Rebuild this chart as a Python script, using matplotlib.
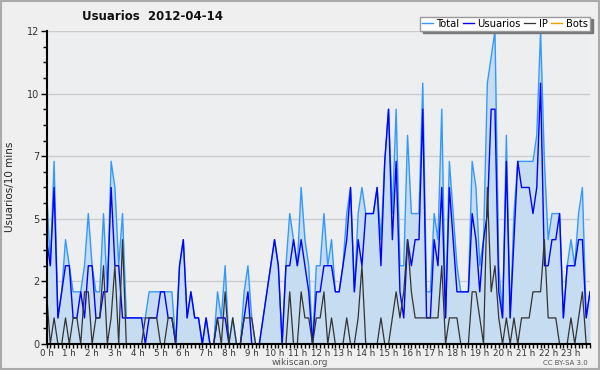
import numpy as np
import matplotlib
matplotlib.use("Agg")
import matplotlib.pyplot as plt
from matplotlib.ticker import FixedLocator, MultipleLocator

# --- datos: usuarios por intervalo de 10 minutos (144 intervalos, 2012-04-14) ---
usuarios = [4, 3, 6, 1, 2, 3, 3, 1, 1, 2, 1, 3, 3, 1, 1, 2, 2, 6, 3, 3,
            1, 1, 1, 1, 1, 1, 0, 1, 1, 1, 2, 2, 1, 1, 0, 3, 4, 1, 2, 1,
            1, 0, 1, 0, 0, 1, 1, 1, 0, 0, 0, 0, 1, 2, 0, 0, 0, 1, 2, 3,
            4, 3, 0, 3, 3, 4, 3, 4, 3, 2, 0, 2, 2, 3, 3, 3, 2, 2, 3, 4,
            6, 2, 4, 3, 5, 5, 5, 6, 3, 7, 9, 4, 7, 2, 1, 4, 3, 4, 4, 9,
            1, 1, 4, 3, 6, 1, 6, 4, 2, 2, 2, 2, 5, 4, 2, 4, 5, 9, 9, 2,
            1, 7, 1, 4, 7, 6, 6, 6, 5, 6, 10, 3, 3, 4, 4, 5, 1, 3, 3, 3,
            4, 4, 1, 2]
ip = [2, 0, 1, 0, 0, 1, 0, 1, 1, 0, 2, 2, 0, 1, 1, 3, 0, 1, 3, 0,
      4, 0, 0, 0, 0, 0, 1, 1, 1, 1, 0, 0, 1, 1, 0, 0, 0, 0, 0, 0,
      0, 0, 0, 0, 0, 1, 0, 2, 0, 1, 0, 0, 1, 1, 1, 0, 0, 0, 0, 0,
      0, 0, 0, 0, 2, 0, 0, 2, 1, 1, 0, 1, 1, 2, 0, 1, 0, 0, 0, 1,
      0, 0, 1, 3, 0, 0, 0, 0, 1, 0, 0, 1, 2, 1, 2, 4, 2, 1, 1, 1,
      1, 1, 1, 1, 3, 0, 1, 1, 1, 0, 0, 0, 2, 2, 1, 0, 6, 2, 3, 1,
      0, 1, 0, 1, 0, 1, 1, 1, 2, 2, 2, 4, 1, 1, 1, 0, 0, 0, 1, 0,
      1, 2, 0, 0]
total = [6, 3, 7, 1, 2, 4, 3, 2, 2, 2, 3, 5, 3, 2, 2, 5, 2, 7, 6, 3,
         5, 1, 1, 1, 1, 1, 1, 2, 2, 2, 2, 2, 2, 2, 0, 3, 4, 1, 2, 1,
         1, 0, 1, 0, 0, 2, 1, 3, 0, 1, 0, 0, 2, 3, 1, 0, 0, 1, 2, 3,
         4, 3, 0, 3, 5, 4, 3, 6, 4, 3, 0, 3, 3, 5, 3, 4, 2, 2, 3, 5,
         6, 2, 5, 6, 5, 5, 5, 6, 4, 7, 9, 5, 9, 3, 3, 8, 5, 5, 5, 10,
         2, 2, 5, 4, 9, 1, 7, 5, 3, 2, 2, 2, 7, 6, 3, 4, 10, 11, 12, 3,
         1, 8, 1, 5, 7, 7, 7, 7, 7, 8, 12, 7, 4, 5, 5, 5, 1, 3, 4, 3,
         5, 6, 1, 2]
bots = [0] * 144

horas = [f"{h} h" for h in range(24)]

x = np.arange(len(total))

fig = plt.figure(figsize=(6, 3.7), dpi=100, facecolor="#efefef")
fig.patches.append(plt.Rectangle((0.002, 0.003), 0.996, 0.994, transform=fig.transFigure,
                                 fill=False, edgecolor="#aaaaaa", linewidth=1.5))

ax = fig.add_axes([0.0775, 0.0703, 0.9058, 0.846])
ax.set_facecolor("#eceef0")

ax.fill_between(x, 0, total, color="#c6dcf0", linewidth=0, zorder=1)
l_total, = ax.plot(x, total, color="#3399ff", linewidth=1.0, zorder=3, label="Total")
l_usu, = ax.plot(x, usuarios, color="#0000ff", linewidth=1.0, zorder=4, label="Usuarios")
l_ip, = ax.plot(x, ip, color="#333333", linewidth=0.9, zorder=5, label="IP")
l_bots, = ax.plot(x, bots, color="#ff9900", linewidth=1.0, zorder=2, label="Bots")

ax.set_xlim(0, 143)
ax.set_ylim(0, 12)

# ejes y cuadricula
yt = np.linspace(0, 12, 6)
ax.yaxis.set_major_locator(FixedLocator(yt))
ax.set_yticklabels([f"{v:.0f}" for v in yt])
ax.yaxis.set_minor_locator(MultipleLocator(0.6))
ax.grid(axis="y", color="#cccccc", linewidth=1.0, zorder=0)
ax.set_axisbelow(True)

ax.xaxis.set_major_locator(FixedLocator(np.arange(0, 144, 6)))
ax.set_xticklabels(horas)
ax.xaxis.set_minor_locator(MultipleLocator(1))

for s in ["top", "right"]:
    ax.spines[s].set_visible(False)
for s in ["left", "bottom"]:
    ax.spines[s].set_linewidth(1.5)
    ax.spines[s].set_color("black")
    ax.spines[s].set_zorder(6)

ax.tick_params(axis="y", which="major", labelsize=7, labelcolor="#333333",
               length=4, width=1, color="black", pad=1)
ax.tick_params(axis="x", which="major", labelsize=6.3, labelcolor="#333333",
               length=3, width=1, color="black", pad=0.5)
ax.tick_params(axis="both", which="minor", length=3, width=1, color="black")

fig.text(0.255, 0.955, "Usuarios  2012-04-14", fontsize=8.5, fontweight="bold",
         ha="center", va="center", color="#111111")
fig.text(0.016, 0.495, "Usuarios/10 mins", rotation=90, fontsize=7.5,
         ha="center", va="center", color="#222222")
fig.text(0.5, 0.02, "wikiscan.org", fontsize=6.5, ha="center", va="center", color="#555555")
fig.text(0.942, 0.02, "CC BY-SA 3.0", fontsize=5, ha="center", va="center", color="#555555")

leg = fig.legend(handles=[l_total, l_usu, l_ip, l_bots], ncol=4, loc="upper right",
                 bbox_to_anchor=(0.983, 0.955), fontsize=7.2, frameon=True, fancybox=False,
                 shadow={"color": "#777777", "alpha": 1.0}, handlelength=1.1,
                 handletextpad=0.35, columnspacing=0.35, borderpad=0.2, borderaxespad=0)
leg.get_frame().set_edgecolor("#999999")
leg.get_frame().set_linewidth(1.0)

fig.savefig("out.png", dpi=100, facecolor=fig.get_facecolor())
